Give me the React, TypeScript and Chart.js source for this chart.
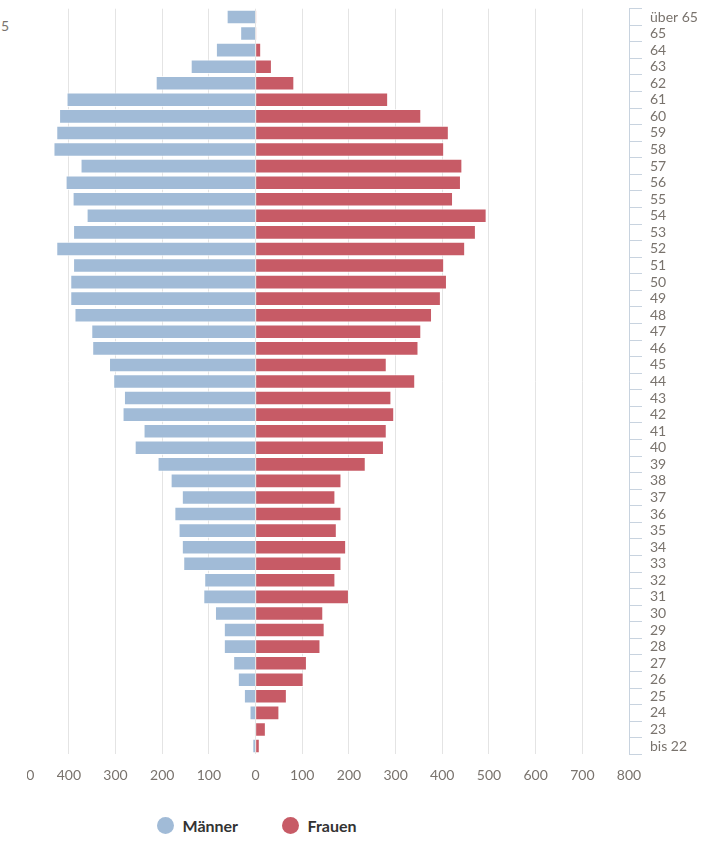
import React, { useEffect, useRef } from 'react';
import { Chart, registerables } from 'chart.js';

Chart.register(...registerables);

const categories = [
  'über 65', '65', '64', '63', '62', '61', '60', '59', '58', '57', '56', '55', '54', '53', '52',
  '51', '50', '49', '48', '47', '46', '45', '44', '43', '42', '41', '40', '39', '38', '37', '36',
  '35', '34', '33', '32', '31', '30', '29', '28', '27', '26', '25', '24', '23', 'bis 22',
];

const maenner = [
  62, 33, 85, 139, 214, 405, 421, 427, 433, 375, 407, 392, 362, 391, 427,
  391, 397, 397, 388, 352, 350, 314, 305, 282, 285, 240, 259, 210, 182, 158, 174,
  165, 158, 155, 110, 112, 87, 68, 68, 48, 38, 25, 13, 2, 7,
];

const frauen = [
  2, 2, 12, 35, 83, 284, 355, 414, 404, 443, 440, 423, 495, 472, 449,
  404, 410, 397, 378, 355, 349, 281, 342, 291, 297, 281, 275, 236, 184, 171, 184,
  174, 194, 184, 171, 200, 145, 148, 139, 110, 103, 67, 51, 22, 9,
];

const seriesNames = ['Männer', 'Frauen'];
const seriesColors = ['#a1bbd7', '#c75b66'];
const xMin = -500;
const xMax = 800;
const xStep = 100;

const FONT = 'Lato, "Open Sans", sans-serif';
const TICK_COLOR = '#79736d';

export default function App() {
  const canvasRef = useRef<HTMLCanvasElement | null>(null);

  useEffect(() => {
    if (!canvasRef.current) return;
    const chart = new Chart(canvasRef.current, {
      type: 'bar',
      data: {
        labels: categories,
        datasets: [
          {
            label: seriesNames[0],
            data: maenner.map((v) => -v),
            backgroundColor: seriesColors[0],
            borderColor: 'rgba(255,255,255,0.75)',
            borderWidth: 1,
            barPercentage: 0.88,
            categoryPercentage: 1,
          },
          {
            label: seriesNames[1],
            data: frauen,
            backgroundColor: seriesColors[1],
            borderColor: 'rgba(255,255,255,0.75)',
            borderWidth: 1,
            barPercentage: 0.88,
            categoryPercentage: 1,
          },
        ],
      },
      options: {
        indexAxis: 'y',
        responsive: false,
        animation: false,
        devicePixelRatio: 1,
        layout: { padding: { top: 8.7, left: 22.2, right: 0, bottom: 0 } },
        plugins: {
          legend: { display: false },
          tooltip: { enabled: false },
        },
        scales: {
          x: {
            type: 'linear',
            stacked: true,
            min: xMin,
            max: xMax,
            afterFit: (scale: any) => {
              scale.height = 45.7;
              scale.paddingLeft = 0;
              scale.paddingRight = 0;
            },
            ticks: {
              stepSize: xStep,
              padding: 13,
              color: TICK_COLOR,
              font: { family: FONT, size: 14 },
              callback: (v: any) => String(Math.abs(Number(v))),
            },
            grid: { color: '#e4e4e4', drawTicks: false, lineWidth: 1 },
            border: { display: false },
          },
          y: {
            type: 'category',
            position: 'right',
            stacked: true,
            afterFit: (scale: any) => {
              scale.width = 96;
              scale.paddingTop = 0;
              scale.paddingBottom = 0;
            },
            ticks: {
              padding: 8,
              color: TICK_COLOR,
              font: { family: FONT, size: 14 },
              autoSkip: false,
            },
            grid: {
              drawOnChartArea: false,
              drawTicks: true,
              tickLength: 13,
              color: '#c8d3df',
              offset: true,
            },
            border: { display: true, color: '#c8d3df' },
          },
        },
      },
    });
    return () => chart.destroy();
  }, []);

  const legendItem = (i: number, left: number) => (
    <div
      key={i}
      style={{
        position: 'absolute',
        left,
        top: 816,
        height: 18,
        display: 'flex',
        alignItems: 'center',
      }}
    >
      <span
        style={{
          display: 'inline-block',
          width: 17,
          height: 17,
          borderRadius: '50%',
          background: seriesColors[i],
          marginRight: 9,
        }}
      />
      <span style={{ font: `bold 16px ${FONT}`, color: '#333333' }}>{seriesNames[i]}</span>
    </div>
  );

  return (
    <div
      style={{
        position: 'fixed',
        left: 0,
        top: 0,
        width: 725,
        height: 841,
        overflow: 'hidden',
        background: '#ffffff',
      }}
    >
      <span
        style={{
          position: 'absolute',
          left: 1,
          top: 17,
          font: `14px ${FONT}`,
          color: TICK_COLOR,
        }}
      >
        5
      </span>
      <div
        style={{
          position: 'absolute',
          left: 26.5,
          top: 0,
          width: 698.5,
          height: 800,
          overflow: 'hidden',
        }}
      >
        <canvas
          ref={canvasRef}
          width={725}
          height={800}
          style={{ position: 'absolute', left: -26.5, top: 0, display: 'block' }}
        />
      </div>
      {legendItem(0, 156.5)}
      {legendItem(1, 281.5)}
    </div>
  );
}
